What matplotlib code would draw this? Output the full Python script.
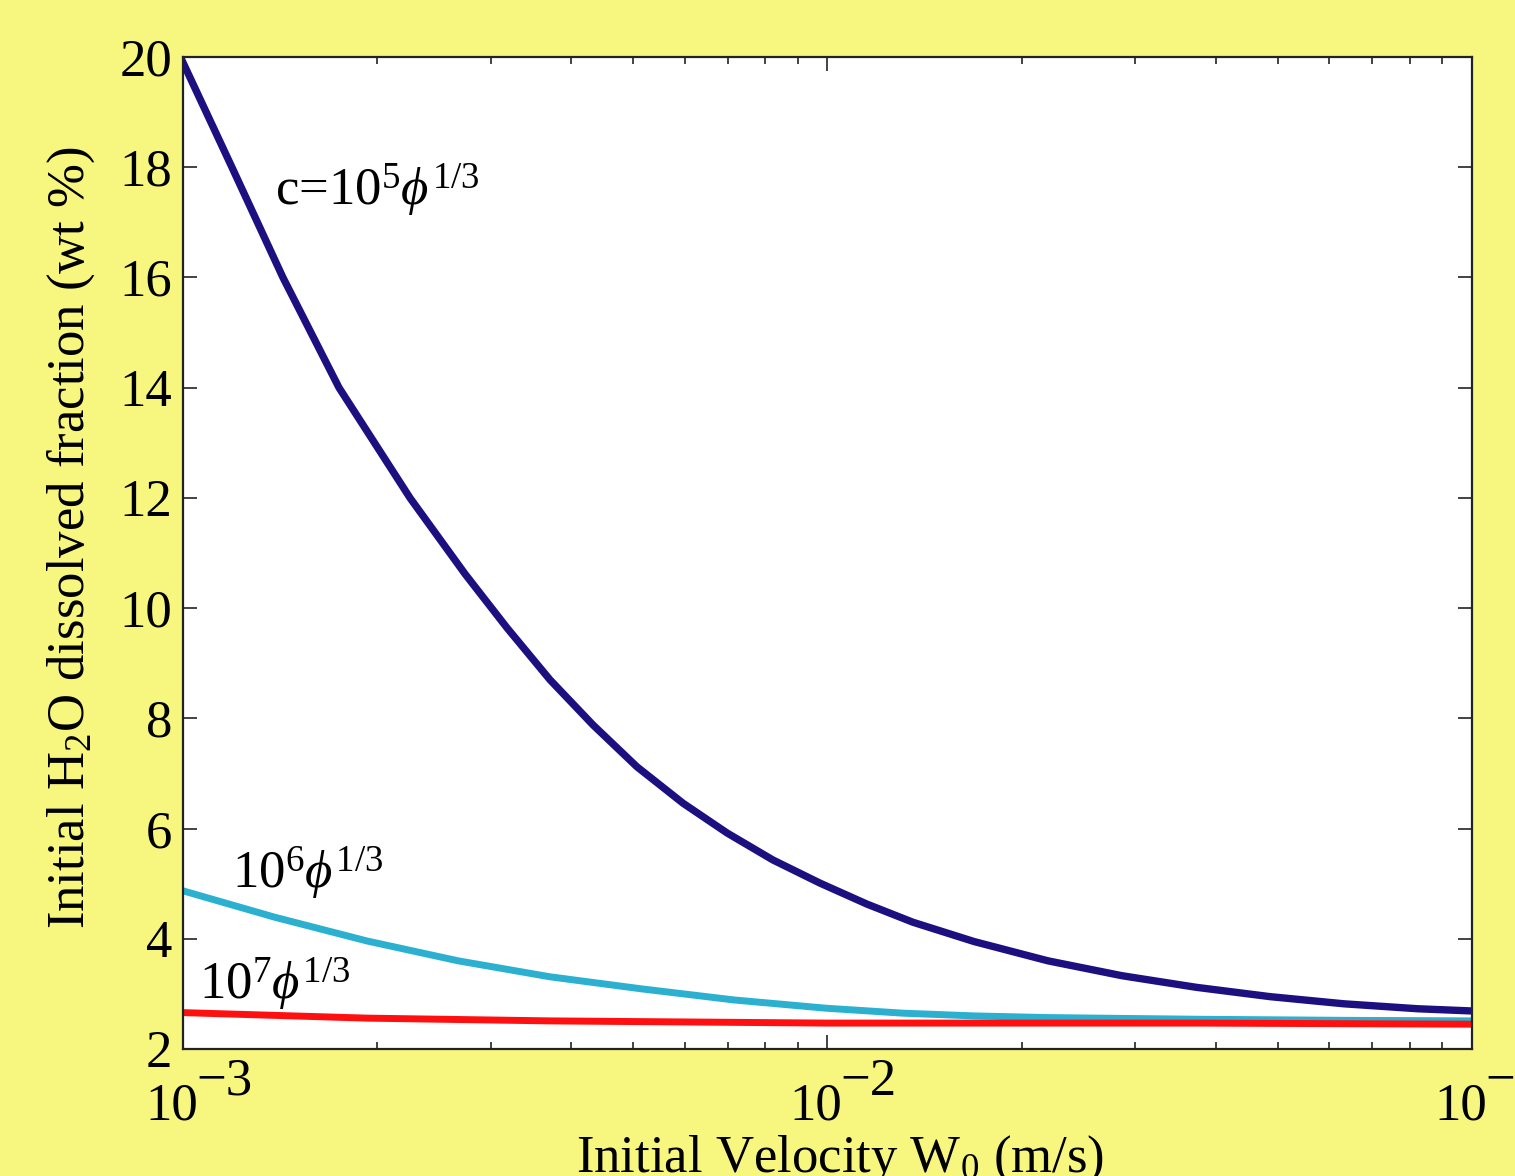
import numpy as np
import matplotlib
matplotlib.use("Agg")
import matplotlib.pyplot as plt
import matplotlib.transforms as mtransforms
from matplotlib.ticker import LogLocator, NullFormatter, FixedLocator

plt.rcParams["font.family"] = ["Liberation Serif", "DejaVu Serif"]
plt.rcParams["mathtext.fontset"] = "custom"
plt.rcParams["mathtext.rm"] = "Liberation Serif"
plt.rcParams["mathtext.it"] = "Liberation Serif:italic"
plt.rcParams["mathtext.bf"] = "Liberation Serif:bold"

# c = 1e5 phi^(1/3): initial velocity W0 (m/s) and H2O fraction (wt %)
w0_c5 = [0.001000, 0.001191, 0.001429, 0.001746, 0.002250, 0.002739,
         0.003183, 0.003710, 0.004327, 0.005063, 0.005968, 0.006985,
         0.008229, 0.009736, 0.01151, 0.01357, 0.01688, 0.02198,
         0.02863, 0.03730, 0.04860, 0.06329, 0.08244, 0.1]
h2o_c5 = [19.9, 18.0, 16.0, 14.0, 12.0, 10.62,
          9.64, 8.70, 7.88, 7.12, 6.46, 5.92,
          5.43, 5.01, 4.63, 4.30, 3.95, 3.60,
          3.33, 3.12, 2.95, 2.82, 2.73, 2.69]

# c = 1e6 phi^(1/3)
w0_c6 = [0.001000, 0.001389, 0.001930, 0.002672, 0.003710, 0.005155,
         0.007159, 0.009947, 0.01309, 0.01694, 0.02198, 0.03730,
         0.06329, 0.1]
h2o_c6 = [4.87, 4.39, 3.96, 3.60, 3.31, 3.09,
          2.89, 2.74, 2.65, 2.60, 2.57, 2.54,
          2.52, 2.51]

# c = 1e7 phi^(1/3)
w0_c7 = [0.001000, 0.001930, 0.003710, 0.009947, 0.03730, 0.1]
h2o_c7 = [2.66, 2.56, 2.51, 2.47, 2.47, 2.45]

y_ticks = [2, 4, 6, 8, 10, 12, 14, 16, 18, 20]
x_ticks = [1e-3, 1e-2, 1e-1]
x_exponents = ["\u22123", "\u22122", "\u22121"]

BG = "#f7f77f"
FS = 38

fig = plt.figure(figsize=(15.15, 11.76), dpi=100, facecolor=BG)
ax = fig.add_axes([0.1208, 0.108, 0.8508, 0.8435])
ax.set_facecolor("white")

ax.plot(w0_c5, h2o_c5, color="#1c0f80", lw=5.3)
ax.plot(w0_c6, h2o_c6, color="#2bb0d0", lw=5)
ax.plot(w0_c7, h2o_c7, color="#ff1010", lw=5)

ax.set_xscale("log")
ax.set_xlim(1e-3, 1e-1)
ax.set_ylim(2, 20)

ax.xaxis.set_major_locator(FixedLocator(x_ticks))
ax.set_xticklabels([])
ax.xaxis.set_minor_locator(LogLocator(base=10, subs=np.arange(2, 10)))
ax.xaxis.set_minor_formatter(NullFormatter())
ax.set_yticks(y_ticks)

ax.tick_params(which="both", direction="in", top=True, right=True,
               labelsize=FS, width=1.2, colors="#222222", labelcolor="black")
ax.tick_params(which="major", length=10)
ax.tick_params(which="minor", length=5)
ax.tick_params(axis="y", pad=8)
for sp in ax.spines.values():
    sp.set_linewidth(1.6)
    sp.set_color("#222222")

# matlab-style log tick labels: "10" with a full-size raised exponent
xform = ax.get_xaxis_transform()
for tick, expo in zip(x_ticks, x_exponents):
    base_tr = mtransforms.offset_copy(xform, fig=fig, x=15, y=-71, units="dots")
    exp_tr = mtransforms.offset_copy(xform, fig=fig, x=13, y=-46, units="dots")
    ax.text(tick, 0, "10", transform=base_tr, fontsize=FS,
            ha="right", va="baseline", clip_on=False)
    ax.text(tick, 0, expo, transform=exp_tr, fontsize=FS,
            ha="left", va="baseline", clip_on=False)

ax.set_xlabel(r"Initial Velocity W$_0$ (m/s)", fontsize=FS)
ax.xaxis.set_label_coords(0.51, -0.085)
ax.set_ylabel(r"Initial H$_2$O dissolved fraction (wt %)", fontsize=FS)
ax.yaxis.set_label_coords(-0.067, 0.516)

ax.text(0.00139, 17.31, r"c=10$^5\phi^{1/3}$", fontsize=FS, ha="left", va="baseline")
ax.text(0.00119, 4.92, r"10$^6\phi^{1/3}$", fontsize=FS, ha="left", va="baseline")
ax.text(0.00106, 2.89, r"10$^7\phi^{1/3}$", fontsize=FS, ha="left", va="baseline")

fig.savefig("out.png", dpi=100, facecolor=BG)
